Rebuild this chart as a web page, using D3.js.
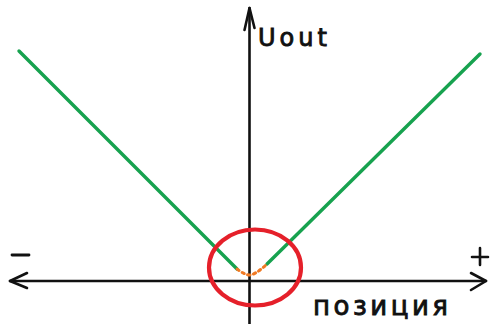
<!DOCTYPE html>
<html>
<head>
<meta charset="utf-8">
<script src="https://cdn.jsdelivr.net/npm/d3@7"></script>
<style>
  html, body { margin: 0; padding: 0; background: #fff; }
  svg { display: block; }
  text { font-family: "DejaVu Sans", sans-serif; fill: #111; stroke: #111; stroke-width: 0.9; }
</style>
</head>
<body>
<div id="chart"></div>
<script>
// sketch data: Uout vs. position (arbitrary units)
const leftPos  = [-1, -0.054];
const leftU    = [1, 0.052];
const rightPos = [0.076, 1];
const rightU   = [0.074, 0.987];
// dotted transition through the zero point
const transPos = [-0.054, -0.028, 0, 0.033, 0.076];
const transU   = [0.052, 0.035, 0.026, 0.039, 0.074];

const xLabel = 'позиция';
const yLabel = 'Uout';

const W = 493, H = 324;

const svg = d3.select('#chart')
  .append('svg')
    .attr('width', W)
    .attr('height', H);

const x = d3.scaleLinear().domain([-1, 1]).range([19, 480]);
const y = d3.scaleLinear().domain([0, 1]).range([281, 51]);

const x0 = x(0), y0 = y(0);
const ink = '#111';

// axes, hand-drawn style
const axes = svg.append('g')
  .attr('stroke', ink)
  .attr('stroke-width', 2.6)
  .attr('fill', 'none')
  .attr('stroke-linecap', 'round')
  .attr('stroke-linejoin', 'round');

axes.append('line')
  .attr('x1', 10).attr('y1', y0)
  .attr('x2', 486).attr('y2', y0);
axes.append('path')
  .attr('d', `M27,${y0 - 8} L10,${y0} L27,${y0 + 7}`);
axes.append('path')
  .attr('d', `M471,${y0 - 8} L486,${y0} L471,${y0 + 9}`);

axes.append('line')
  .attr('x1', x0).attr('y1', 8)
  .attr('x2', x0).attr('y2', H);
axes.append('path')
  .attr('d', `M${x0 - 5},30 L${x0},8 L${x0 + 5},28`);

// minus / plus marks
svg.append('line')
  .attr('x1', 12).attr('x2', 29)
  .attr('y1', 255).attr('y2', 255)
  .attr('stroke', ink).attr('stroke-width', 2.8)
  .attr('stroke-linecap', 'round');
svg.append('path')
  .attr('d', 'M472,257 L488,257 M480,248 L480,265')
  .attr('stroke', ink).attr('stroke-width', 2.6)
  .attr('stroke-linecap', 'round');

const line = d3.line()
  .x(d => x(d[0]))
  .y(d => y(d[1]));

const green = '#17a24f';

svg.append('path')
  .datum(d3.zip(leftPos, leftU))
  .attr('d', line)
  .attr('fill', 'none')
  .attr('stroke', green)
  .attr('stroke-width', 3.4)
  .attr('stroke-linecap', 'round');

svg.append('path')
  .datum(d3.zip(rightPos, rightU))
  .attr('d', line)
  .attr('fill', 'none')
  .attr('stroke', green)
  .attr('stroke-width', 3.4)
  .attr('stroke-linecap', 'round');

svg.append('path')
  .datum(d3.zip(transPos, transU))
  .attr('d', line.curve(d3.curveCatmullRom))
  .attr('fill', 'none')
  .attr('stroke', '#f07a24')
  .attr('stroke-width', 3)
  .attr('stroke-dasharray', '2.5,3.5')
  .attr('stroke-linecap', 'round');

// red circle around the zero region
svg.append('ellipse')
  .attr('cx', x0 + 5.5)
  .attr('cy', y0 - 13.5)
  .attr('rx', 46)
  .attr('ry', 38)
  .attr('fill', 'none')
  .attr('stroke', '#e5202a')
  .attr('stroke-width', 4.2);

// labels
svg.append('text')
  .attr('x', 258).attr('y', 46)
  .attr('font-size', 24)
  .attr('textLength', 69)
  .attr('lengthAdjust', 'spacing')
  .text(yLabel);

svg.append('text')
  .attr('x', 313).attr('y', 315)
  .attr('font-size', 26)
  .attr('textLength', 135)
  .attr('lengthAdjust', 'spacing')
  .text(xLabel);
</script>
</body>
</html>
